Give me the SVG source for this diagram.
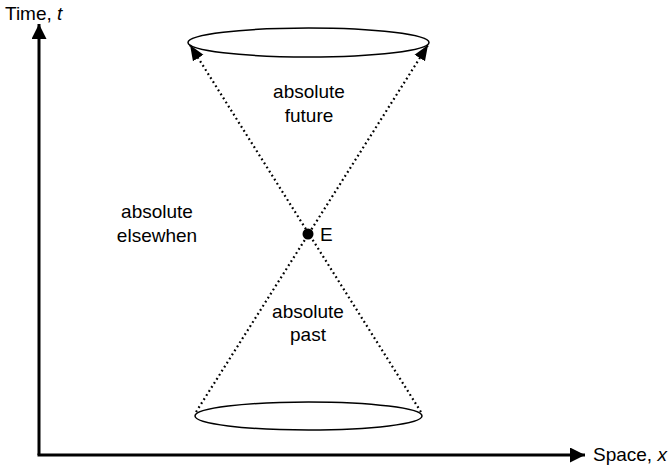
<svg xmlns="http://www.w3.org/2000/svg" width="671" height="470" viewBox="0 0 671 470">
<style>
text{font-family:"Liberation Sans",Arial,sans-serif;font-size:19px;fill:#000}
.axis{stroke:#000;stroke-width:3;fill:none}
.ell{stroke:#000;stroke-width:1.5;fill:none}
.dot{stroke:#000;stroke-width:2.2;stroke-dasharray:1.8,3;fill:none}
</style>
<defs>
<marker id="ah" viewBox="0 0 10 10" refX="10" refY="5" markerWidth="5" markerHeight="5" orient="auto" markerUnits="strokeWidth">
<path d="M0,0 L10,5 L0,10 z" fill="#000"/>
</marker>
<marker id="ah2" viewBox="0 0 10 10" refX="10" refY="5" markerWidth="7" markerHeight="7" orient="auto" markerUnits="strokeWidth">
<path d="M0,1 L10,5 L0,9 z" fill="#000"/>
</marker>
</defs>
<g id="axes">
<path class="axis" d="M39,455 L39,24" marker-end="url(#ah)"/>
<path class="axis" d="M37.5,455 L585,455" marker-end="url(#ah)"/>
<text x="5" y="20">Time, <tspan font-style="italic">t</tspan></text>
<text x="593" y="461">Space, <tspan font-style="italic">x</tspan></text>
</g>
<g id="future-cone">
<ellipse class="ell" cx="308.5" cy="42.5" rx="120.5" ry="14.5"/>
</g>
<g id="past-cone">
<ellipse class="ell" cx="308.5" cy="416" rx="113.5" ry="14"/>
</g>
<g id="connectors">
<path class="dot" d="M196,412 L428,45" marker-end="url(#ah2)"/>
<path class="dot" d="M421,412 L190,45" marker-end="url(#ah2)"/>
</g>
<g id="event">
<circle cx="308" cy="234" r="5.5" fill="#000"/>
<text x="320" y="241">E</text>
</g>
<g id="labels" text-anchor="middle">
<text x="309" y="98">absolute</text>
<text x="309" y="122">future</text>
<text x="157" y="218">absolute</text>
<text x="157" y="242">elsewhen</text>
<text x="308" y="318">absolute</text>
<text x="308" y="341">past</text>
</g>
</svg>
